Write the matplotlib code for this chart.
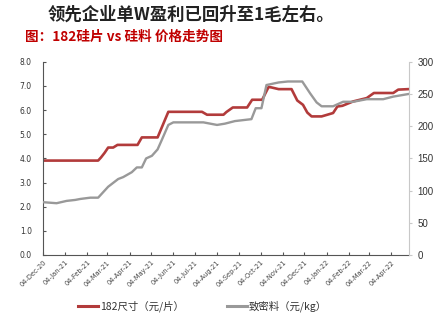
import matplotlib
matplotlib.use("Agg")
import matplotlib.pyplot as plt
import matplotlib.dates as mdates
import pandas as pd
from matplotlib.lines import Line2D

plt.rcParams['font.family'] = ['Noto Sans CJK SC', 'DejaVu Sans']

title = "领先企业单W盈利已回升至1毛左右。"
subtitle = "图：182硅片 vs 硅料 价格走势图"
label_wafer = "182尺寸（元/片）"
label_poly = "致密料（元/kg）"

wafer_dates = ["2020-12-04", "2021-02-19", "2021-02-23", "2021-02-28", "2021-03-05",
               "2021-03-12", "2021-03-18", "2021-04-15", "2021-04-21", "2021-05-13",
               "2021-05-28", "2021-07-14", "2021-07-21", "2021-08-13", "2021-08-17",
               "2021-08-26", "2021-09-15", "2021-09-22", "2021-10-06", "2021-10-15",
               "2021-10-19", "2021-10-29", "2021-11-16", "2021-11-24", "2021-12-02",
               "2021-12-08", "2021-12-14", "2021-12-28", "2022-01-13", "2022-01-19",
               "2022-01-26", "2022-02-10", "2022-03-01", "2022-03-11", "2022-04-07",
               "2022-04-14", "2022-04-28"]
wafer_price = [3.91, 3.91, 4.04, 4.23, 4.45,
               4.45, 4.56, 4.56, 4.87, 4.87,
               5.93, 5.93, 5.81, 5.81, 5.92,
               6.11, 6.11, 6.43, 6.43, 6.96,
               6.94, 6.87, 6.87, 6.40, 6.22,
               5.90, 5.74, 5.74, 5.88, 6.15,
               6.18, 6.36, 6.50, 6.71, 6.71,
               6.85, 6.87]

poly_dates = ["2020-12-04", "2020-12-23", "2021-01-06", "2021-01-18", "2021-01-25",
              "2021-02-08", "2021-02-19", "2021-03-05", "2021-03-19", "2021-03-26",
              "2021-04-07", "2021-04-14", "2021-04-21", "2021-04-27", "2021-05-05",
              "2021-05-13", "2021-05-19", "2021-05-28", "2021-06-04", "2021-07-16",
              "2021-08-04", "2021-08-15", "2021-08-29", "2021-09-21", "2021-09-27",
              "2021-10-05", "2021-10-12", "2021-10-29", "2021-11-11", "2021-12-01",
              "2021-12-12", "2021-12-21", "2021-12-28", "2022-01-13", "2022-01-27",
              "2022-02-10", "2022-03-01", "2022-03-24", "2022-04-07", "2022-04-28"]
poly_price = [82, 80.4, 84, 85.5, 87,
              89, 89, 106, 118, 121,
              128.6, 136, 136, 150, 154,
              164, 179, 202, 206, 206,
              202, 204, 208, 211, 228,
              228, 264, 268, 269.5, 269.5,
              251, 237, 231, 231, 238,
              238, 242, 242, 246, 250]

tick_dates = pd.date_range("2020-12-04", "2022-04-04", freq=pd.DateOffset(months=1))

red = "#B23B3B"
gray = "#999999"

fig = plt.figure(figsize=(4.45, 3.14), dpi=100)
ax = fig.add_axes([0.0966, 0.188, 0.8225, 0.615])
ax2 = ax.twinx()

ax.plot(pd.to_datetime(wafer_dates), wafer_price, color=red, lw=1.9, solid_joinstyle='round')
ax2.plot(pd.to_datetime(poly_dates), poly_price, color=gray, lw=1.7, solid_joinstyle='round')

ax.set_xlim(pd.Timestamp("2020-12-04"), pd.Timestamp("2022-04-29"))
ax.set_ylim(0, 8)
ax2.set_ylim(0, 300)
ax.set_yticks([i * 1.0 for i in range(9)])
ax.set_yticklabels([f"{i:.1f}" for i in range(9)], fontsize=5.5, color="#333333", family='DejaVu Sans')
ax2.set_yticks(list(range(0, 301, 50)))
ax2.set_yticklabels([str(v) for v in range(0, 301, 50)], fontsize=7, color="#333333", family='Liberation Sans')

ax.set_xticks(tick_dates)
ax.xaxis.set_major_formatter(mdates.DateFormatter("%d-%b-%y"))
for lbl in ax.get_xticklabels():
    lbl.set_rotation(45)
    lbl.set_ha('right')
    lbl.set_rotation_mode('anchor')
    lbl.set_fontsize(4.8)
    lbl.set_color('#444444')
    lbl.set_family('DejaVu Sans')

for s in ['top', 'right']:
    ax.spines[s].set_visible(False)
ax2.spines['top'].set_visible(False)
ax2.spines['left'].set_visible(False)
ax2.spines['bottom'].set_visible(False)
ax.spines['left'].set_color('#555555')
ax.spines['bottom'].set_color('#555555')
ax2.spines['right'].set_color('#c8c8c8')
ax.tick_params(axis='y', direction='in', length=2, color='#555555', pad=8)
ax.tick_params(axis='x', direction='in', length=2, color='#555555', pad=3)
ax2.tick_params(axis='y', direction='out', length=2, color='#c8c8c8', pad=4)

fig.text(0.43, 0.953, title, fontsize=12.5, fontweight='bold', color='#222222', ha='center', va='center')
fig.text(0.057, 0.882, subtitle, fontsize=9.8, fontweight='bold', color='#C00000', ha='left', va='center')

handles = [Line2D([], [], color=red, lw=2.2), Line2D([], [], color=gray, lw=2.2)]
fig.legend(handles, [label_wafer, label_poly], loc='center', bbox_to_anchor=(0.455, 0.024),
           ncol=2, frameon=False, fontsize=7.5, handlelength=1.9, handletextpad=0.2,
           columnspacing=4.2, labelcolor='#333333')

fig.savefig("out.png", dpi=100)
